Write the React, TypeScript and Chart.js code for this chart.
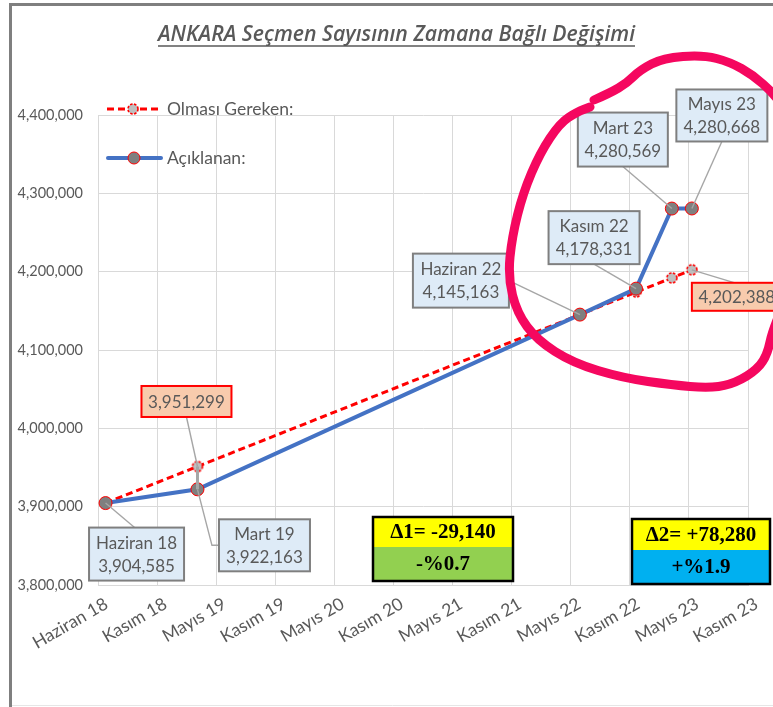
import React, { useEffect, useRef } from 'react';
import { Chart, registerables } from 'chart.js';

Chart.register(...registerables);

// ---- DATA ----
// x values are days counted from 1 June 2018 (Excel date axis, 180-day major unit)
const xTickLabels = ['Haziran 18', 'Kasım 18', 'Mayıs 19', 'Kasım 19', 'Mayıs 20', 'Kasım 20', 'Mayıs 21', 'Kasım 21', 'Mayıs 22', 'Kasım 22', 'Mayıs 23', 'Kasım 23'];
const xMin = 0;
const xMax = 1980;
const xStep = 180;
const yMin = 3800000;
const yMax = 4400000;
const yStep = 100000;

const pointNames = ['Haziran 18', 'Mart 19', 'Haziran 22', 'Kasım 22', 'Mart 23', 'Mayıs 23'];
const pointDays = [23, 303, 1468, 1639, 1748, 1809];
const announced = [3904585, 3922163, 4145163, 4178331, 4280569, 4280668];
const expected = [3904585, 3951299, 4145163, 4174000, 4192000, 4202388];

const seriesNames = ['Olması Gereken:', 'Açıklanan:'];
const titleText = 'ANKARA Seçmen Sayısının Zamana Bağlı Değişimi';

const deltaTexts = [
  ['Δ1= -29,140', '-%0.7'],
  ['Δ2= +78,280', '+%1.9'],
];

// ---- STYLING / LAYOUT (not data) ----
const W = 773;
const H = 707;
const GRAY_TEXT = '#595959';
const FONT = 'Lato, "Noto Sans", sans-serif';
const X_LABEL_ROT = 30;

// label box offsets relative to the point's pixel position
const announcedLabelLayout = [
  { dx: 31, dy: 51, w: 95, h: 53, anchor: 'top' },
  { dx: 67, dy: 56, w: 91, h: 52, anchor: 'elbow' },
  { dx: -119, dy: -34, w: 96, h: 54, anchor: 'right' },
  { dx: -42, dy: -51, w: 91, h: 53, anchor: 'bottom' },
  { dx: -49, dy: -69, w: 90, h: 54, anchor: 'bottom' },
  { dx: 30, dy: -93, w: 91, h: 52, anchor: 'bottom' },
];
const expectedLabelLayout: Record<number, { dx: number; dy: number; w: number; h: number; anchor: string }> = {
  1: { dx: -11, dy: -65, w: 90, h: 31, anchor: 'bottom' },
  5: { dx: 45, dy: 27, w: 90, h: 28, anchor: 'top' },
};
const deltaLayout = [
  { x: 373, y: 517, w: 140, h1: 30, h2: 34, fill2: '#92D050' },
  { x: 632, y: 519, w: 138, h1: 31, h2: 34, fill2: '#00B0F0' },
];
// hand-drawn highlight loop (pixel space)
const loopA = [[594, 100], [610, 93], [627, 83], [640, 70], [663, 58], [703, 55], [730, 62], [753, 75], [773, 93], [790, 115]];
const loopB = [[790, 290], [773, 327], [767, 357], [753, 373], [730, 385], [707, 388], [673, 385], [623, 378], [573, 363], [537, 340], [517, 313], [508, 277], [512, 237], [523, 193], [540, 153], [560, 123], [577, 112], [590, 107]];

function makeDashedPoint(): HTMLCanvasElement {
  const c = document.createElement('canvas');
  c.width = 14;
  c.height = 14;
  const g = c.getContext('2d')!;
  g.beginPath();
  g.arc(7, 7, 5, 0, Math.PI * 2);
  g.fillStyle = '#bfbfbf';
  g.fill();
  g.setLineDash([2.5, 1.5]);
  g.lineWidth = 1.6;
  g.strokeStyle = '#ff0000';
  g.stroke();
  return c;
}

function fmt(v: number) {
  return Math.round(v).toLocaleString('en-US');
}

function smoothPath(ctx: CanvasRenderingContext2D, pts: number[][]) {
  ctx.beginPath();
  ctx.moveTo(pts[0][0], pts[0][1]);
  for (let i = 1; i < pts.length - 1; i++) {
    const mx = (pts[i][0] + pts[i + 1][0]) / 2;
    const my = (pts[i][1] + pts[i + 1][1]) / 2;
    ctx.quadraticCurveTo(pts[i][0], pts[i][1], mx, my);
  }
  const l = pts[pts.length - 1];
  ctx.lineTo(l[0], l[1]);
  ctx.stroke();
}

export default function App() {
  const ref = useRef<HTMLCanvasElement>(null);

  useEffect(() => {
    const canvas = ref.current!;
    const redPoint = makeDashedPoint();

    const overlay = {
      id: 'overlay',
      beforeDraw(chart: any) {
        const ctx = chart.ctx as CanvasRenderingContext2D;
        ctx.save();
        ctx.fillStyle = '#ffffff';
        ctx.fillRect(0, 0, W, H);
        ctx.restore();
      },
      afterDatasetsDraw(chart: any) {
        const ctx = chart.ctx as CanvasRenderingContext2D;
        const xs = chart.scales.x;
        const ys = chart.scales.y;
        ctx.save();

        // frame
        ctx.strokeStyle = '#7f7f7f';
        ctx.lineWidth = 3;
        ctx.beginPath();
        ctx.moveTo(10.5, H);
        ctx.lineTo(10.5, 4.5);
        ctx.lineTo(W + 5, 4.5);
        ctx.stroke();
        ctx.strokeStyle = '#e6e6e6';
        ctx.lineWidth = 1;
        ctx.beginPath();
        ctx.moveTo(12, H - 1.5);
        ctx.lineTo(W, H - 1.5);
        ctx.stroke();

        // x tick labels (rotated)
        ctx.fillStyle = GRAY_TEXT;
        ctx.font = `17.5px ${FONT}`;
        ctx.textAlign = 'right';
        ctx.textBaseline = 'top';
        xTickLabels.forEach((lab, i) => {
          const px = xs.getPixelForValue(xMin + i * xStep);
          ctx.save();
          ctx.translate(px + 4, 595);
          ctx.rotate((-X_LABEL_ROT * Math.PI) / 180);
          ctx.fillText(lab, 0, 0);
          ctx.restore();
        });

        const drawBox = (cx: number, cy: number, w: number, h: number, fill: string, stroke: string, lines: string[]) => {
          ctx.fillStyle = fill;
          ctx.fillRect(cx - w / 2, cy - h / 2, w, h);
          ctx.strokeStyle = stroke;
          ctx.lineWidth = 2;
          ctx.strokeRect(cx - w / 2, cy - h / 2, w, h);
          ctx.fillStyle = GRAY_TEXT;
          ctx.font = `17px ${FONT}`;
          ctx.textAlign = 'center';
          ctx.textBaseline = 'middle';
          if (lines.length === 1) {
            ctx.fillText(lines[0], cx, cy + 1);
          } else {
            ctx.fillText(lines[0], cx, cy - 11);
            ctx.fillText(lines[1], cx, cy + 12);
          }
        };

        const leader = (px: number, py: number, cx: number, cy: number, w: number, h: number, anchor: string) => {
          ctx.strokeStyle = '#a6a6a6';
          ctx.lineWidth = 1.4;
          ctx.beginPath();
          ctx.moveTo(px, py);
          if (anchor === 'top') ctx.lineTo(cx - 2, cy - h / 2);
          else if (anchor === 'bottom') ctx.lineTo(cx, cy + h / 2);
          else if (anchor === 'right') ctx.lineTo(cx + w / 2, cy);
          else if (anchor === 'elbow') {
            ctx.lineTo(cx - w / 2 - 7, cy);
            ctx.lineTo(cx - w / 2, cy);
          }
          ctx.stroke();
        };

        // expected labels
        Object.keys(expectedLabelLayout).forEach((k) => {
          const i = Number(k);
          const L = expectedLabelLayout[i];
          const px = xs.getPixelForValue(pointDays[i]);
          const py = ys.getPixelForValue(expected[i]);
          const cx = px + L.dx;
          const cy = py + L.dy;
          leader(px, py, cx, cy, L.w, L.h, L.anchor);
          if (i === 1) {
            ctx.strokeStyle = '#a6a6a6';
            ctx.lineWidth = 3;
            ctx.beginPath();
            ctx.moveTo(px, py);
            ctx.lineTo(px, ys.getPixelForValue(announced[i]));
            ctx.stroke();
          }
          drawBox(cx, cy, L.w, L.h, '#F8CBAD', '#ff0000', [fmt(expected[i])]);
        });

        // announced labels
        announcedLabelLayout.forEach((L, i) => {
          const px = xs.getPixelForValue(pointDays[i]);
          const py = ys.getPixelForValue(announced[i]);
          const cx = px + L.dx;
          const cy = py + L.dy;
          leader(px, py, cx, cy, L.w, L.h, L.anchor);
          drawBox(cx, cy, L.w, L.h, '#DEEBF7', '#7f7f7f', [pointNames[i], fmt(announced[i])]);
        });

        // delta boxes
        deltaLayout.forEach((D, i) => {
          ctx.fillStyle = '#FFFF00';
          ctx.fillRect(D.x, D.y, D.w, D.h1);
          ctx.fillStyle = D.fill2;
          ctx.fillRect(D.x, D.y + D.h1, D.w, D.h2);
          ctx.strokeStyle = '#000000';
          ctx.lineWidth = 2.5;
          ctx.strokeRect(D.x, D.y, D.w, D.h1 + D.h2);
          ctx.fillStyle = '#000000';
          ctx.font = `bold 21px "Liberation Serif", "DejaVu Serif", serif`;
          ctx.textAlign = 'center';
          ctx.textBaseline = 'middle';
          ctx.fillText(deltaTexts[i][0], D.x + D.w / 2, D.y + D.h1 / 2 + 1);
          ctx.fillText(deltaTexts[i][1], D.x + D.w / 2, D.y + D.h1 + D.h2 / 2 + 1);
        });

        // legend
        ctx.setLineDash([7, 4]);
        ctx.strokeStyle = '#ff0000';
        ctx.lineWidth = 3;
        ctx.beginPath();
        ctx.moveTo(107, 109);
        ctx.lineTo(162, 109);
        ctx.stroke();
        ctx.setLineDash([]);
        ctx.drawImage(redPoint, 133 - 7, 109 - 7);
        ctx.strokeStyle = '#4472C4';
        ctx.lineWidth = 4;
        ctx.lineCap = 'round';
        ctx.beginPath();
        ctx.moveTo(108, 158);
        ctx.lineTo(161, 158);
        ctx.stroke();
        ctx.lineCap = 'butt';
        ctx.beginPath();
        ctx.arc(134, 158, 6, 0, Math.PI * 2);
        ctx.fillStyle = '#7f7f7f';
        ctx.fill();
        ctx.strokeStyle = '#ff0000';
        ctx.lineWidth = 1;
        ctx.stroke();
        ctx.fillStyle = GRAY_TEXT;
        ctx.font = `17.5px ${FONT}`;
        ctx.textAlign = 'left';
        ctx.textBaseline = 'middle';
        ctx.fillText(seriesNames[0], 167, 109);
        ctx.fillText(seriesNames[1], 167, 158);

        // title
        ctx.font = `italic 600 21px "Open Sans", sans-serif`;
        const tw = ctx.measureText(titleText).width;
        const target = 477;
        const sx = target / tw;
        const tx = 158;
        ctx.save();
        ctx.translate(tx, 41);
        ctx.scale(sx, 1);
        ctx.fillStyle = GRAY_TEXT;
        ctx.textAlign = 'left';
        ctx.textBaseline = 'alphabetic';
        ctx.fillText(titleText, 0, 0);
        ctx.restore();
        ctx.strokeStyle = GRAY_TEXT;
        ctx.lineWidth = 1.5;
        ctx.beginPath();
        ctx.moveTo(tx, 46);
        ctx.lineTo(tx + target, 46);
        ctx.stroke();

        // highlight loop
        ctx.strokeStyle = '#F5075F';
        ctx.lineWidth = 9;
        ctx.lineCap = 'round';
        ctx.lineJoin = 'round';
        smoothPath(ctx, loopA);
        smoothPath(ctx, loopB);

        ctx.restore();
      },
    };

    const chart = new Chart(canvas, {
      type: 'line',
      data: {
        datasets: [
          {
            label: seriesNames[1],
            data: pointDays.map((d, i) => ({ x: d, y: announced[i] })),
            borderColor: '#4472C4',
            borderWidth: 4,
            pointRadius: 6.5,
            pointBackgroundColor: '#7f7f7f',
            pointBorderColor: '#ff0000',
            pointBorderWidth: 1,
            order: 0,
          },
          {
            label: seriesNames[0],
            data: pointDays.map((d, i) => ({ x: d, y: expected[i] })),
            borderColor: '#ff0000',
            borderWidth: 3,
            borderDash: [7, 4],
            pointStyle: redPoint as any,
            order: 1,
          },
        ],
      },
      options: {
        responsive: false,
        animation: false,
        devicePixelRatio: 1,
        layout: { padding: { left: 12, right: 25, top: 115, bottom: 0 } },
        plugins: { legend: { display: false }, tooltip: { enabled: false }, title: { display: false } },
        scales: {
          x: {
            type: 'linear',
            min: xMin,
            max: xMax,
            afterFit: (s: any) => {
              s.height = H - 585;
            },
            afterBuildTicks: (s: any) => {
              const t = [];
              for (let v = xMin; v <= xMax; v += xStep) t.push({ value: v });
              s.ticks = t;
            },
            ticks: {
              display: false,
              stepSize: xStep,
              autoSkip: false,
            },
            grid: { color: '#d9d9d9', lineWidth: 1, drawTicks: false },
            border: { color: '#d9d9d9' },
          },
          y: {
            type: 'linear',
            min: yMin,
            max: yMax,
            afterFit: (s: any) => {
              s.width = 98 - 12;
            },
            ticks: {
              stepSize: yStep,
              padding: 15,
              color: GRAY_TEXT,
              font: { family: FONT, size: 14.5 },
              callback: (v: any) => fmt(Number(v)),
            },
            grid: { color: '#d9d9d9', lineWidth: 1, drawTicks: false },
            border: { color: '#d9d9d9' },
          },
        },
      },
      plugins: [overlay],
    });

    return () => chart.destroy();
  }, []);

  return (
    <div style={{ position: 'fixed', left: 0, top: 0, width: W, height: H, background: '#fff' }}>
      <canvas ref={ref} width={W} height={H} style={{ display: 'block', width: W, height: H }} />
    </div>
  );
}
